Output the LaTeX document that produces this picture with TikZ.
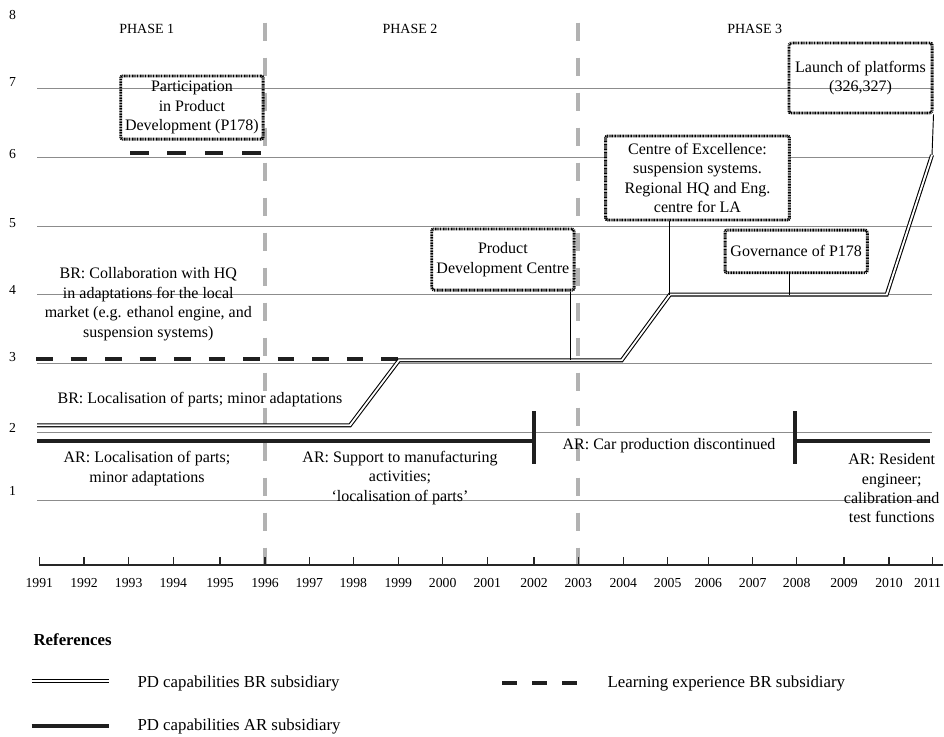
\documentclass[tikz,border=0pt]{standalone}
\usepackage{fontspec}
\setmainfont{Liberation Serif}
\usetikzlibrary{calc}
\begin{document}
\begin{tikzpicture}[x=0.75pt,y=-0.75pt,
  txt/.style={font=\fontsize{12}{14.6}\selectfont, align=center, inner sep=0pt},
  yr/.style={font=\fontsize{10.3}{12}\selectfont, inner sep=0pt},
  lvl/.style={font=\fontsize{10.3}{12}\selectfont, inner sep=0pt},
  phase/.style={font=\fontsize{10.5}{12}\selectfont, inner sep=0pt},
  legtxt/.style={font=\fontsize{12.6}{14}\selectfont, inner sep=0pt, anchor=west},
  gridline/.style={draw=black!45, line width=0.7pt},
  phaseline/.style={draw=black!30, line width=2.5pt, dash pattern=on 13.5pt off 12.75pt},
  brline/.style={draw=black, line width=0.8pt, double=white, double distance=1.4pt},
  arline/.style={draw=black!88, line width=3pt},
  learnA/.style={draw=black!88, line width=3pt, dash pattern=on 12.5pt off 13.4pt},
  learnB/.style={draw=black!88, line width=3pt, dash pattern=on 13.9pt off 14.2pt},
  learnC/.style={draw=black!88, line width=3pt, dash pattern=on 10.8pt off 11.7pt},
  pbox/.style={draw=black, line width=2.2pt, dash pattern=on 0.7pt off 0.5pt, rounded corners=1.5pt, inner sep=0pt, font=\fontsize{12}{14.6}\selectfont, align=center},
  conn/.style={draw=black, line width=0.7pt},
]
% canvas
\fill[white] (0,0) rectangle (944,736);
\useasboundingbox (0,0) rectangle (944,736);

% level grid lines and labels
\foreach \k in {1,...,7}{
  \draw[gridline] (37,{500.7-(\k-1)*68.65}) -- (932,{500.7-(\k-1)*68.65});
}
\foreach \k/\yy in {8/15, 7/81.7, 6/154, 5/223, 4/290, 3/357.3, 2/427.7, 1/491}{
  \node[lvl] (lv\k) at (12.5,\yy) {\k};
}

% phase separators
\draw[phaseline] (265,22.7) -- (265,565.5);
\draw[phaseline] (578,22.7) -- (578,565.5);
\node[phase] (ph1) at (146.7,29.3) {PHASE 1};
\node[phase] (ph2) at (410,29.3) {PHASE 2};
\node[phase] (ph3) at (754.7,29.3) {PHASE 3};

% time axis
\coordinate (ax0) at (39.3,565);
\coordinate (ax1) at (943,565);
\draw[line width=1pt, black!85] (ax0) -- (ax1);
\foreach \yr/\xx/\lx in {1991/39.3/39.3, 1992/84/84, 1993/128.7/128.7, 1994/173.3/173.3, 1995/220/220, 1996/265/265, 1997/309.3/309.3, 1998/353.3/353.3, 1999/398.3/398.3, 2000/442.7/442.7, 2001/487.3/487.3, 2002/534/534, 2003/578.3/578.3, 2004/623.3/623.3, 2005/667.7/667.7, 2006/708.3/708.3, 2007/752.7/752.7, 2008/796.7/796.7, 2009/844/844, 2010/889/889, 2011/932.7/927.5}{
  \draw[line width=1pt, black!85] (\xx,557) -- (\xx,565);
  \node[yr] (y\yr) at (\lx,583.3) {\yr};
}

% learning experience (dashed black)
\coordinate (l3a) at (36,359.3);
\coordinate (l3b) at (399,359.3);
\draw[learnA] (l3a) -- (l3b);
\coordinate (l6a) at (130,152.5);
\coordinate (l6b) at (261.5,152.5);
\draw[learnB] (l6a) -- (l6b);

% BR capabilities (double line)
\coordinate (b1) at (37,425.3);
\coordinate (b2) at (350,425.3);
\coordinate (b3) at (399,360.3);
\coordinate (b4) at (621.7,360.3);
\coordinate (b5) at (670,294.5);
\coordinate (b6) at (886.7,294.5);
\coordinate (b7) at (932,155);
\draw[brline] (b1) -- (b2) -- (b3) -- (b4) -- (b5) -- (b6) -- (b7);

% AR capabilities (thick line)
\coordinate (a1) at (37,441);
\coordinate (a2) at (534,441);
\coordinate (a3) at (794.5,441);
\coordinate (a4) at (930,441);
\coordinate (a2t) at (534,411);
\coordinate (a2b) at (534,464);
\coordinate (a3t) at (794.5,411);
\coordinate (a3b) at (794.5,464);
\draw[arline] (a1) -- (a2);
\draw[arline] (a2t) -- (a2b);
\draw[arline] (a3t) -- (a3b);
\draw[arline] (a3) -- (a4);

% texts
\node[txt] (brcollab) at (148.3,304) {BR: Collaboration with HQ\\in adaptations for the local\\market (e.g. ethanol engine, and\\suspension systems)};
\node[txt] (brloc) at (200,399.3) {BR: Localisation of parts; minor adaptations};
\node[txt] (arloc) at (147,468.7) {AR: Localisation of parts;\\minor adaptations};
\node[txt] (arsup) at (400,477.6) {AR: Support to manufacturing\\activities;\\‘localisation of parts’};
\node[txt] (arcar) at (669,445.7) {AR: Car production discontinued};
\node[txt] (arres) at (891.7,488.3) {AR: Resident\\engineer;\\calibration and\\test functions};

% boxes
\node[pbox, minimum width=106.7pt, minimum height=47.3pt] (part) at (191.9,107.5) {Participation\\in Product\\Development (P178)};
\node[pbox, minimum width=106.7pt, minimum height=45.8pt] (pdc) at (502.9,259.5) {Product\\Development Centre};
\node[pbox, fill=white, minimum width=137.7pt, minimum height=63pt] (coe) at (697.5,178) {Centre of Excellence:\\suspension systems.\\Regional HQ and Eng.\\centre for LA};
\node[pbox, minimum width=106.7pt, minimum height=32pt] (gov) at (796.2,251.4) {Governance of P178};
\node[pbox, minimum width=107.3pt, minimum height=52.5pt] (launch) at (860.5,78) {Launch of platforms\\(326,327)};

% connectors
\coordinate (pdcfoot) at (570.7,360.3);
\coordinate (coefoot) at (669.3,294.5);
\coordinate (govfoot) at (789,294.5);
\draw[conn] (pdc.south -| pdcfoot) -- (pdcfoot);
\draw[conn] (coe.south -| coefoot) -- (coefoot);
\draw[conn] (gov.south -| govfoot) -- (govfoot);
\draw[conn] (launch.south east) -- (b7);

% legend
\node[font=\fontsize{12.6}{14}\selectfont\bfseries, inner sep=0pt, anchor=west] (refs) at (33.3,640) {References};
\coordinate (lg1a) at (31.7,681);
\coordinate (lg1b) at (109,681);
\draw[brline] (lg1a) -- (lg1b);
\node[legtxt] (lgt1) at (137.3,683.3) {PD capabilities BR subsidiary};
\coordinate (lg2a) at (31.7,726);
\coordinate (lg2b) at (109,726);
\draw[arline] (lg2a) -- (lg2b);
\node[legtxt] (lgt2) at (137.3,726.7) {PD capabilities AR subsidiary};
\coordinate (lg3a) at (502.3,683.3);
\coordinate (lg3b) at (577,683.3);
\draw[learnC] (lg3a) -- (lg3b);
\node[legtxt] (lgt3) at (607.3,683.3) {Learning experience BR subsidiary};
\end{tikzpicture}
\end{document}
